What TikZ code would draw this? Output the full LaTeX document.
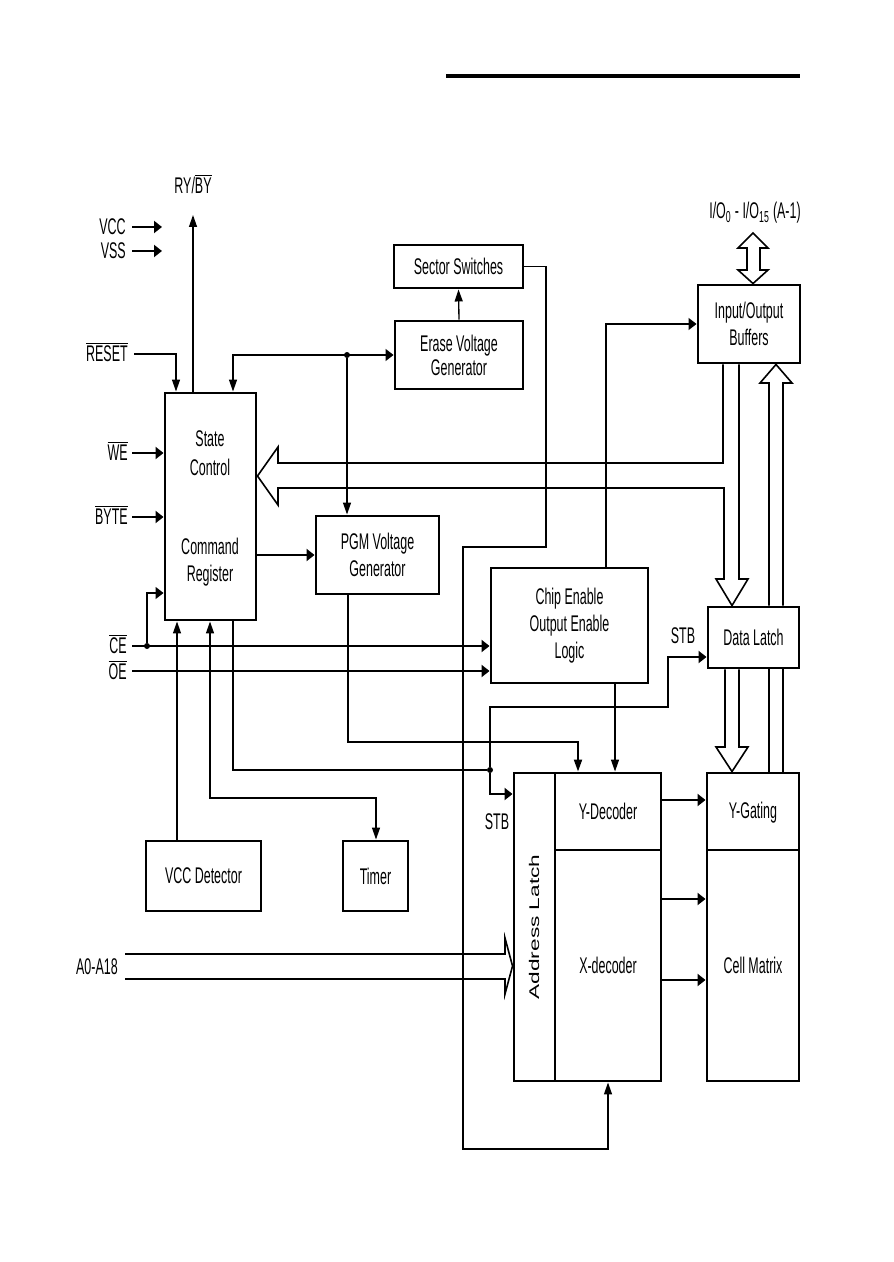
\documentclass[tikz,border=0pt]{standalone}
\usepackage{fontspec}
\usepackage{graphicx}
\setmainfont{Liberation Sans}[FakeStretch=0.55]
\newfontfamily\plainsans{Liberation Sans}
\usetikzlibrary{arrows.meta,fit}
\newcommand{\ovl}[1]{$\overline{\hbox{#1}}$}
\begin{document}
\begin{tikzpicture}[x=0.75pt,y=-0.75pt,
  font=\fontsize{17}{20}\selectfont,
  box/.style={draw,line width=2.2pt,inner sep=0pt},
  lbl/.style={inner sep=0pt,align=center},
  ln/.style={line width=1pt},
  med/.style={line width=1.5pt},
  thk/.style={line width=2.2pt},
  ha/.style={-{Triangle[length=6pt,width=9pt]}},
  va/.style={-{Triangle[length=9pt,width=6pt]}},
  dot/.style={circle,fill,inner sep=0pt,minimum size=4.5pt},
  bus/.style={line width=1.2pt,line join=miter}
]
\useasboundingbox (0,0) rectangle (893,1262);

% top rule
\draw[line width=3pt] (446,76) -- (800,76);

% boxes
\node[box,fit={(394,245)(523,288)}] (sw) {};
\node[lbl] (swt) at (sw) {Sector Switches};
\node[box,fit={(395,321)(523,389)}] (evg) {};
\node[lbl] (evgt) at (evg) {Erase Voltage\\[-2pt]Generator};
\node[box,fit={(698,285)(800,363)}] (iob) {};
\node[lbl] (iobt) at (iob) {Input/Output\\Buffers};
\node[box,fit={(165,393)(256,620)}] (sc) {};
\node[lbl] (stc) at (210,453) {State\\[1.5pt]Control};
\node[lbl] (cmr) at (210,562) {Command\\Register};
\node[box,fit={(316,516)(439,594)}] (pgm) {};
\node[lbl] (pgmt) at (pgm) {PGM Voltage\\Generator};
\node[box,fit={(491,568)(648,683)}] (cel) {};
\node[lbl] (celt) at (cel) {Chip Enable\\Output Enable\\Logic};
\node[box,fit={(708,607)(799,668)}] (dl) {};
\node[lbl] (dlt) at (dl) {Data Latch};
\node[box,fit={(146,841)(261,911)}] (vccd) {};
\node[lbl] (vccdt) at (vccd) {VCC Detector};
\node[box,fit={(343,841)(408,911)}] (tim) {};
\node[lbl] (timt) at (tim) {Timer};
\node[box,fit={(514,773)(555,1081)}] (al) {};
\node[lbl,rotate=90] (altx) at (534,927) {\scalebox{1}[0.62]{\plainsans Address Latch}};
\node[box,fit={(555,773)(661,850)}] (yd) {};
\node[lbl] (ydt) at (yd) {Y-Decoder};
\node[box,fit={(555,850)(661,1081)}] (xd) {};
\node[lbl] (xdt) at (xd) {X-decoder};
\node[box,fit={(707,773)(799,850)}] (yg) {};
\node[lbl] (ygt) at (753,813) {Y-Gating};
\node[box,fit={(707,850)(799,1081)}] (cm) {};
\node[lbl] (cmt) at (cm) {Cell Matrix};

% labels
\node[lbl] (ryby) at (193,184) {RY/\ovl{BY}};
\node[lbl,anchor=east] (vcc) at (126,227) {VCC};
\node[lbl,anchor=east] (vss) at (126,251) {VSS};
\node[lbl,anchor=east] (reset) at (128,352) {\ovl{RESET}};
\node[lbl,anchor=east] (we) at (128,451) {\ovl{WE}};
\node[lbl,anchor=east] (byte) at (128,515) {\ovl{BYTE}};
\node[lbl,anchor=east] (lce) at (127,644) {\ovl{CE}};
\node[lbl,anchor=east] (loe) at (127,670) {\ovl{OE}};
\node[lbl,anchor=east] (addr) at (118,967) {A0-A18};
\node[lbl] (stb1) at (683,636) {STB};
\node[lbl] (stb2) at (497,822) {STB};
\node[lbl] (io) at (755,213) {I/O\textsubscript{0} - I/O\textsubscript{15} (A-1)};

% free ends
\coordinate (rybyE) at (193,215);
\coordinate (vccE) at (162,227);
\coordinate (vssE) at (162,251);
\coordinate (resetS) at (134,354);
\coordinate (weS) at (132,453);
\coordinate (byteS) at (132,517);
\coordinate (ceS) at (132,646);
\coordinate (oeS) at (132,671);
\coordinate (ioT) at (753,233);
\coordinate (tj) at (210,798);

% supply / control inputs
\draw[ln,va] (193,0 |- sc.north) -- (rybyE);
\draw[med,ha] (132,227) -- (vccE);
\draw[med,ha] (132,251) -- (vssE);
\draw[ln,va] (resetS) -| (176,0 |- sc.north);
\draw[med,ha] (weS) -- (weS -| sc.west);
\draw[med,ha] (byteS) -- (byteS -| sc.west);
\draw[thk,ha] (ceS) -- (ceS -| cel.west);
\node[dot] (d2) at (147,646) {};
\draw[ln,ha] (d2) |- (sc.west |- 0,593);
\draw[med,ha] (oeS) -- (oeS -| cel.west);

% state control <-> erase voltage, PGM
\draw[ln,{Triangle[length=9pt,width=6pt]}-{Triangle[length=6pt,width=9pt]}] (233,0 |- sc.north) |- (evg.west);
\node[dot] (d1) at (347,355) {};
\draw[ln,va] (d1) -- (d1 |- pgm.north);
\draw[ln,va] (evg.north) -- (sw.south);
\draw[thk,ha] (sc.east |- pgm.west) -- (pgm.west);

% sector switches -> X-decoder
\draw[ln,va] (sw.east) -- (546,0 |- sw.east) -- (546,547) -- (463,547) -- (463,1149) -| (xd.south);

% big data bus to state control and data latch
\draw[bus] (723,0 |- iob.south) -- (723,463) -- (278,463) -- (278,447) -- (sc.east |- 0,476)
  -- (278,505) -- (278,488) -- (724,488) -- (724,579) -- (716,579) -- (732,0 |- dl.north)
  -- (748,579) -- (739,579) -- (739,0 |- iob.south);
% up bus Y-gating -> I/O buffers
\draw[bus] (769,0 |- dl.north) -- (769,383) -- (760,383) -- (776,0 |- iob.south) -- (792,383) -- (783,383) -- (783,0 |- dl.north);
\draw[bus] (769,0 |- dl.south) -- (769,0 |- yg.north);
\draw[bus] (783,0 |- dl.south) -- (783,0 |- yg.north);
% data latch -> Y-gating
\draw[bus] (725,0 |- dl.south) -- (725,747) -- (716,747) -- (732,0 |- yg.north) -- (748,747) -- (739,747) -- (739,0 |- dl.south);
% I/O double arrow
\draw[bus] (ioT) -- (768,248) -- (760,248) -- (760,270) -- (768,270) -- (753,0 |- iob.north)
  -- (738,270) -- (747,270) -- (747,248) -- (738,248) -- cycle;

% chip enable logic -> I/O buffers
\draw[ln,ha] (606,0 |- cel.north) |- (iob.west);

% STB
\node[dot] (d3) at (490,770) {};
\draw[med,ha] (d3) -- (490,707) -- (668,707) |- (dl.west |- 0,657);
\draw[med,ha] (d3) |- (al.west |- 0,794);
\draw[ln] (233,0 |- sc.south) |- (d3);

% PGM -> Y-decoder, CE logic -> Y-decoder
\draw[med,va] (348,0 |- pgm.south) |- (578,742) -- (578,0 |- yd.north);
\draw[ln,va] (615,0 |- cel.south) -- (615,0 |- yd.north);

% timer
\draw[ln,va] (210,746) -- (210,0 |- sc.south);
\draw[thk] (210,745) -- (tj) -- (376,798);
\draw[ln,va] (376,797) -- (376,0 |- tim.north);

% VCC detector
\draw[ln,va] (177,0 |- vccd.north) -- (177,0 |- sc.south);

% address bus
\draw[bus] (125,954) -- (505,954) -- (505,938) -- (al.west |- 0,966) -- (505,994) -- (505,979) -- (125,979);

% decoders -> gating / matrix
\draw[med,ha] (yd.east |- 0,800) -- (yg.west |- 0,800);
\draw[med,ha] (xd.east |- 0,899) -- (cm.west |- 0,899);
\draw[thk,ha] (xd.east |- 0,980) -- (cm.west |- 0,980);
\end{tikzpicture}
\end{document}
